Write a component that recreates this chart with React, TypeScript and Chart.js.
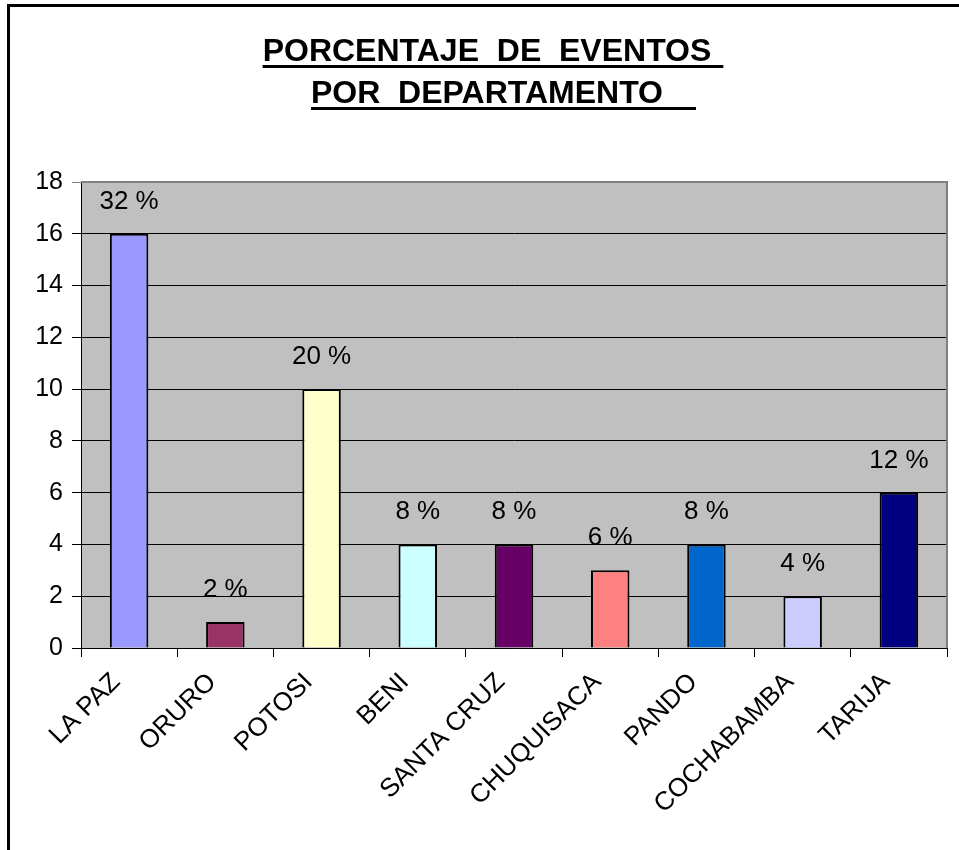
import React, { useEffect, useRef } from "react";
import { Chart, registerables } from "chart.js";

Chart.register(...registerables);

const categories = ["LA PAZ", "ORURO", "POTOSI", "BENI", "SANTA CRUZ", "CHUQUISACA", "PANDO", "COCHABAMBA", "TARIJA"];
const eventCounts = [16, 1, 10, 4, 4, 3, 4, 2, 6];
const percentLabels = ["32 %", "2 %", "20 %", "8 %", "8 %", "6 %", "8 %", "4 %", "12 %"];
const barColors = ["#9999FF", "#993366", "#FFFFCC", "#CCFFFF", "#660066", "#FF8080", "#0066CC", "#CCCCFF", "#000080"];
const titleLines = ["PORCENTAJE  DE  EVENTOS", "POR  DEPARTAMENTO"];
const yMin = 0;
const yMax = 18;
const yStep = 2;

const FONT = "'Liberation Sans', Arial, sans-serif";

const plotBackground = {
  id: "plotBackground",
  beforeDraw(chart: any) {
    const { ctx, chartArea } = chart;
    ctx.save();
    ctx.fillStyle = "#C0C0C0";
    ctx.fillRect(chartArea.left, chartArea.top, chartArea.right - chartArea.left, chartArea.bottom - chartArea.top);
    ctx.restore();
  },
  afterDraw(chart: any) {
    const { ctx, chartArea } = chart;
    ctx.save();
    ctx.strokeStyle = "#808080";
    ctx.lineWidth = 2;
    ctx.beginPath();
    ctx.moveTo(chartArea.left, chartArea.top);
    ctx.lineTo(chartArea.right, chartArea.top);
    ctx.lineTo(chartArea.right, chartArea.bottom);
    ctx.stroke();
    ctx.restore();
  },
};

const underlinedTitle = {
  id: "underlinedTitle",
  afterDraw(chart: any) {
    const { ctx } = chart;
    ctx.save();
    ctx.font = `bold 32px ${FONT}`;
    ctx.fillStyle = "#000";
    ctx.textBaseline = "alphabetic";
    ctx.textAlign = "left";
    const cx = 487;
    const baselines = [61, 103];
    const extra = [12, 33];
    titleLines.forEach((line, i) => {
      const w = ctx.measureText(line).width;
      const x0 = cx - w / 2;
      ctx.fillText(line, x0, baselines[i]);
      ctx.fillRect(x0, baselines[i] + 4, w + extra[i], 3);
    });
    ctx.restore();
  },
};

const barValueLabels = {
  id: "barValueLabels",
  afterDatasetsDraw(chart: any) {
    const { ctx } = chart;
    const meta = chart.getDatasetMeta(0);
    ctx.save();
    ctx.font = `26px ${FONT}`;
    ctx.fillStyle = "#000";
    ctx.textAlign = "center";
    ctx.textBaseline = "alphabetic";
    meta.data.forEach((bar: any, i: number) => {
      ctx.fillText(percentLabels[i], bar.x, bar.y - 25);
    });
    ctx.restore();
  },
};

export default function App() {
  const canvasRef = useRef<HTMLCanvasElement | null>(null);

  useEffect(() => {
    if (!canvasRef.current) return;
    const chart = new Chart(canvasRef.current, {
      type: "bar",
      data: {
        labels: categories,
        datasets: [
          {
            data: eventCounts,
            backgroundColor: barColors,
            borderColor: "#000",
            borderWidth: 2,
            barPercentage: 0.4,
            categoryPercentage: 1,
          },
        ],
      },
      options: {
        animation: false,
        responsive: true,
        maintainAspectRatio: false,
        layout: { padding: { top: 182, right: 12, bottom: 0, left: 0 } },
        plugins: {
          legend: { display: false },
          title: { display: false },
          tooltip: { enabled: false },
        },
        scales: {
          x: {
            afterFit(scale: any) {
              scale.height = 202;
            },
            grid: {
              display: true,
              drawOnChartArea: false,
              drawTicks: true,
              tickLength: 9,
              color: "#000",
              offset: true,
            },
            border: { display: true, color: "#000", width: 1 },
            ticks: {
              color: "#000",
              font: { family: FONT, size: 26 },
              minRotation: 45,
              maxRotation: 45,
              autoSkip: false,
              padding: 10,
              labelOffset: -13,
            },
          },
          y: {
            min: yMin,
            max: yMax,
            afterFit(scale: any) {
              scale.width = 81;
            },
            grid: {
              color: (c: any) => (c.tick && c.tick.value === yMax ? "#808080" : "#000"),
              tickLength: 9,
              lineWidth: 1,
            },
            border: { display: true, color: "#000", width: 1 },
            ticks: {
              stepSize: yStep,
              color: "#000",
              font: { family: FONT, size: 25 },
              padding: 9,
            },
          },
        },
      },
      plugins: [plotBackground, barValueLabels, underlinedTitle],
    });
    return () => chart.destroy();
  }, []);

  return (
    <div style={{ position: "absolute", left: 0, top: 0, width: 959, height: 850, background: "#fff" }}>
      <div
        style={{
          position: "absolute",
          left: 7,
          top: 4,
          right: 0,
          bottom: 0,
          borderTop: "3px solid #000",
          borderLeft: "3px solid #000",
          pointerEvents: "none",
        }}
      />
      <canvas ref={canvasRef} style={{ position: "absolute", left: 0, top: 0 }} />
    </div>
  );
}
